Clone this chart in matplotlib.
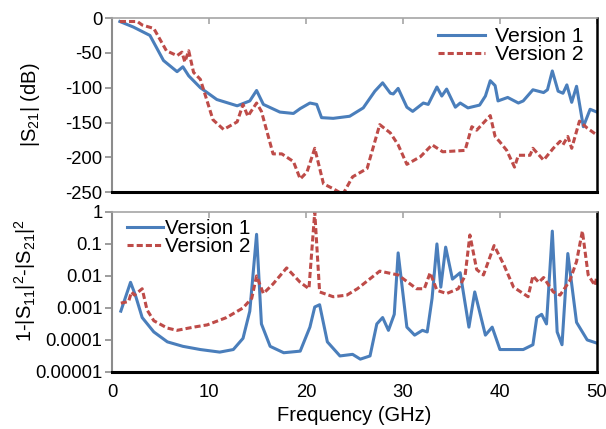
import numpy as np
import matplotlib
matplotlib.use("Agg")
import matplotlib.pyplot as plt

plt.rcParams['font.family'] = ['Liberation Sans', 'DejaVu Sans']
plt.rcParams['mathtext.default'] = 'regular'
plt.rcParams['axes.unicode_minus'] = False

# top panel: |S21| (dB)
f_s21_v1 = [0.8, 2.2, 3.9, 5.3, 6.7, 7.3, 7.9, 9.1, 10.8, 12.9, 14.2, 14.9, 15.6, 17.3, 18.7,
            19.4, 20.4, 21.1, 21.6, 22.8, 24.5, 25.9, 27.1, 27.9, 28.7, 29.0, 29.5, 30.4, 31.0,
            32.1, 32.6, 33.5, 34.0, 34.5, 35.4, 35.9, 36.7, 37.9, 38.5, 39.0, 39.5, 39.8, 40.8,
            41.9, 42.4, 43.4, 44.5, 44.9, 45.4, 46.0, 46.5, 46.9, 47.4, 47.9, 48.6, 49.3, 50.0]
s21_v1 = [-5, -13, -25, -61, -77, -70, -83, -100, -117, -126, -119, -104, -124, -135, -137,
          -130, -122, -124, -143, -144, -141, -129, -105, -93, -108, -109, -101, -128, -134,
          -122, -124, -99, -112, -102, -128, -122, -129, -125, -112, -90, -97, -119, -114,
          -122, -119, -103, -107, -103, -76, -105, -108, -96, -121, -98, -156, -131, -135]

f_s21_v2 = [0.8, 2.6, 3.1, 4.3, 5.6, 6.7, 7.2, 7.5, 7.9, 8.4, 9.1, 10.4, 11.5, 12.9, 13.5,
            14.0, 14.9, 15.4, 16.6, 17.5, 18.7, 19.4, 20.1, 20.9, 21.8, 22.8, 23.8, 24.8, 26.3,
            26.9, 27.6, 28.7, 29.5, 30.4, 31.8, 33.0, 34.1, 36.4, 37.1, 37.6, 39.0, 39.5, 40.0,
            40.7, 41.5, 41.9, 43.1, 43.4, 44.5, 45.5, 46.2, 46.5, 47.0, 47.4, 48.2, 49.0, 50.0]
s21_v2 = [-5, -5, -10, -15, -47, -54, -49, -63, -47, -78, -88, -146, -160, -149, -124,
          -141, -122, -134, -195, -195, -206, -231, -221, -187, -238, -245, -253, -228, -216,
          -187, -153, -165, -182, -210, -199, -182, -192, -190, -156, -161, -140, -170, -178,
          -190, -214, -197, -197, -187, -204, -187, -177, -182, -170, -187, -148, -158, -168]

# bottom panel: 1-|S11|^2-|S21|^2, as log10 values
f_loss_v1 = [0.9, 1.9, 2.4, 3.1, 4.3, 5.7, 7.3, 9.1, 11.1, 12.5, 13.5, 14.2, 14.9, 15.4, 16.3,
             17.7, 19.4, 20.4, 20.9, 21.4, 22.2, 23.5, 24.8, 25.6, 26.6, 27.3, 27.9, 28.5, 29.1,
             29.5, 30.4, 31.2, 32.0, 32.5, 33.0, 33.5, 33.9, 34.4, 35.1, 35.9, 36.8, 37.4, 38.5,
             39.2, 40.0, 42.4, 43.4, 43.8, 44.3, 44.8, 45.4, 45.9, 46.4, 47.0, 47.9, 49.0, 50.0]
loss_v1_log = [-3.1, -2.2, -2.6, -3.3, -3.75, -4.06, -4.2, -4.3, -4.38, -4.3, -3.95, -3.1, -0.7, -3.5, -4.2,
               -4.4, -4.35, -3.6, -2.97, -2.9, -4.06, -4.5, -4.45, -4.6, -4.5, -3.5, -3.3, -3.7, -3.2,
               -1.28, -3.6, -3.85, -3.7, -3.75, -2.7, -1.0, -2.35, -1.1, -2.1, -1.9, -3.6, -2.5, -3.85,
               -3.6, -4.3, -4.3, -4.15, -3.3, -3.2, -3.5, -0.6, -3.75, -4.15, -1.3, -3.45, -4.0, -4.1]

f_loss_v2 = [0.9, 1.7, 2.0, 2.3, 3.1, 3.6, 4.3, 5.7, 6.7, 8.4, 9.8, 11.8, 13.5, 14.4, 14.9,
             15.6, 16.6, 18.0, 19.4, 20.3, 20.9, 21.4, 22.8, 24.2, 25.3, 27.6, 29.5, 31.4, 32.2,
             32.8, 33.5, 34.5, 35.7, 36.4, 36.9, 37.6, 38.3, 39.4, 40.4, 41.4, 42.9, 43.4, 44.0,
             44.5, 45.5, 46.2, 47.2, 47.9, 48.5, 49.1, 49.8, 50.0]
loss_v2_log = [-2.85, -2.8, -2.5, -2.6, -2.4, -3.06, -3.4, -3.63, -3.7, -3.6, -3.53, -3.3, -3.0, -2.7, -2.0,
               -2.55, -2.25, -1.75, -2.2, -2.4, 0.0, -2.5, -2.65, -2.6, -2.4, -1.85, -1.97, -2.4, -2.4,
               -1.9, -2.45, -2.55, -2.4, -2.0, -0.72, -1.8, -1.97, -1.05, -1.65, -2.35, -2.65, -2.0, -2.2,
               -2.05, -2.5, -2.6, -2.15, -1.55, -0.6, -1.97, -2.3, -2.0]

BLUE = '#4a7ebb'
RED = '#be4b48'
DASH = (0, (2.0, 1.0))


def style_axes(ax):
    ax.spines['left'].set_color('#8c8c8c')
    ax.spines['top'].set_color('#a6a6a6')
    ax.spines['left'].set_linewidth(1.5)
    ax.spines['top'].set_linewidth(1.2)
    ax.spines['right'].set_color('black')
    ax.spines['bottom'].set_color('black')
    ax.spines['right'].set_linewidth(1.8)
    ax.spines['bottom'].set_linewidth(2.2)
    ax.tick_params(axis='y', direction='out', length=5, width=1.2, color='#8c8c8c',
                   labelsize=13.3, pad=2)
    ax.tick_params(axis='x', which='both', bottom=False, top=True, direction='in',
                   length=4, width=1.2, color='#a6a6a6', labelsize=13.3)
    ax.set_xlim(0, 50)
    ax.set_xticks([0, 10, 20, 30, 40, 50])


fig = plt.figure(figsize=(6.06, 4.29), dpi=100)
ax1 = fig.add_axes([0.185, 0.552, 0.800, 0.406])
ax2 = fig.add_axes([0.185, 0.133, 0.800, 0.373])

ax1.plot(f_s21_v1, s21_v1, color=BLUE, lw=2.2, label='Version 1')
ax1.plot(f_s21_v2, s21_v2, color=RED, lw=2.2, ls=DASH, label='Version 2')
ax1.set_ylim(-250, 0)
ax1.set_yticks([0, -50, -100, -150, -200, -250])
ax1.set_ylabel('|S$_{21}$| (dB)', fontsize=14.5)
ax1.yaxis.set_label_coords(-0.144, 0.5)
style_axes(ax1)
ax1.tick_params(axis='x', labelbottom=False)
ax1.legend(loc='upper right', frameon=False, fontsize=15.3, handlelength=2.2,
           borderaxespad=0.2, labelspacing=-0.05, handletextpad=0.45,
           bbox_to_anchor=(0.998, 1.02))

ax2.plot(f_loss_v1, 10.0 ** np.array(loss_v1_log), color=BLUE, lw=2.2, label='Version 1')
ax2.plot(f_loss_v2, 10.0 ** np.array(loss_v2_log), color=RED, lw=2.2, ls=DASH,
         label='Version 2')
ax2.set_yscale('log')
ax2.set_ylim(1e-5, 1)
ax2.set_yticks([1, 0.1, 0.01, 0.001, 0.0001, 0.00001])
ax2.set_yticklabels(['1', '0.1', '0.01', '0.001', '0.0001', '0.00001'])
ax2.minorticks_off()
ax2.set_ylabel('1-|S$_{11}$|$^2$-|S$_{21}$|$^2$', fontsize=14.5)
ax2.yaxis.set_label_coords(-0.152, 0.57)
style_axes(ax2)
ax2.tick_params(axis='x', labelbottom=True, pad=9)
ax2.set_xlabel('Frequency (GHz)', fontsize=14.5, labelpad=3)
ax2.legend(loc='upper left', frameon=False, fontsize=14.8, handlelength=1.75,
           borderaxespad=0.2, labelspacing=-0.05, handletextpad=0.1,
           bbox_to_anchor=(0.005, 1.03))

fig.savefig('out.png', dpi=100)
